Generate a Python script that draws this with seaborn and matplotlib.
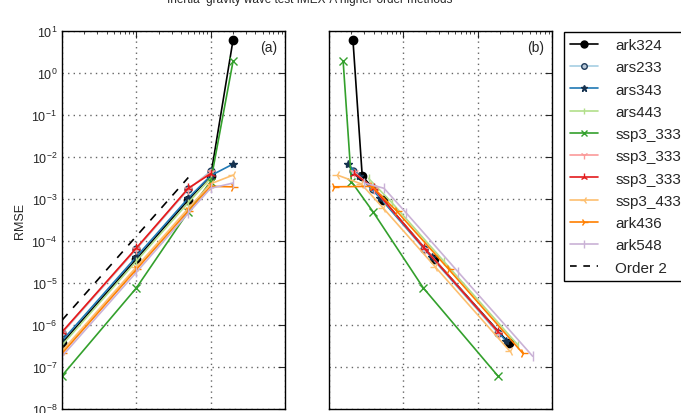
# -*- coding: utf-8 -*-
import numpy as np
import pandas as pd
import seaborn as sns
from matplotlib import pyplot as plt
from matplotlib.lines import Line2D

nan = np.nan

# time steps used in panel (a)
dt = [1, 10, 50, 100, 200]

methods = ['ark324', 'ars233', 'ars343', 'ars443', 'ssp3_333a',
           'ssp3_333b', 'ssp3_333c', 'ssp3_433', 'ark436', 'ark548']

# RMSE per method (one value per dt)
ark324_err = [3.7e-7, 3.7e-5, 9.5e-4, 3.5e-3, 6.1]
ars233_err = [6.4e-7, 6.4e-5, 1.7e-3, 4.6e-3, nan]
ars343_err = [4.2e-7, 4.2e-5, 1.05e-3, 3.6e-3, 6.8e-3]
ars443_err = [3.3e-7, 3.3e-5, 8.2e-4, 3.1e-3, nan]
ssp3_333a_err = [6.2e-8, 7.6e-6, 5.0e-4, 2.6e-3, 1.9]
ssp3_333b_err = [6.6e-7, 6.6e-5, 1.75e-3, 4.3e-3, nan]
ssp3_333c_err = [6.8e-7, 6.8e-5, 1.8e-3, 4.0e-3, nan]
ssp3_433_err = [2.4e-7, 2.4e-5, 6.0e-4, 2.3e-3, 3.7e-3]
ark436_err = [2.1e-7, 2.1e-5, 5.2e-4, 2.0e-3, 1.95e-3]
ark548_err = [1.8e-7, 1.8e-5, 4.6e-4, 1.8e-3, 2.4e-3]

# cost per method (panel b)
ark324_cost = [263, 26, 5.4, 2.8, 2.1]
ars233_cost = [188, 19, 3.9, 2.1, nan]
ars343_cost = [240, 24, 4.9, 2.5, 1.8]
ars443_cost = [350, 35, 7.0, 3.4, nan]
ssp3_333a_cost = [186, 18.6, 3.9, 2.0, 1.55]
ssp3_333b_cost = [192, 19.5, 4.0, 2.2, nan]
ssp3_333c_cost = [190, 19, 4.0, 2.2, nan]
ssp3_433_cost = [270, 27, 5.4, 2.7, 1.3]
ark436_cost = [407, 41, 8.1, 3.8, 1.15]
ark548_cost = [550, 55, 11, 5.5, 3.0]

# order 2 reference line
order2_dt = [1, 50]
order2_err = [1.3e-6, 3.25e-3]

errs = [ark324_err, ars233_err, ars343_err, ars443_err, ssp3_333a_err,
        ssp3_333b_err, ssp3_333c_err, ssp3_433_err, ark436_err, ark548_err]
costs = [ark324_cost, ars233_cost, ars343_cost, ars443_cost, ssp3_333a_cost,
         ssp3_333b_cost, ssp3_333c_cost, ssp3_433_cost, ark436_cost, ark548_cost]

sns.set_style('white')
plt.rcParams['font.family'] = ['Liberation Sans', 'DejaVu Sans']
plt.rcParams['axes.unicode_minus'] = True

pal = sns.color_palette('Paired', 10)
colors = ['black'] + pal[:9]
markers = ['o', 'o', '*', '|', 'x', '1', '2', '3', '4', '|']
mfaces = ['black', '#b8c8d8', '#16324f', None, None, None, None, None, None, None]
medges = ['black', '#1f3b5a', '#16324f', None, None, None, None, None, None, None]
msizes = [6, 5, 6, 6, 6, 7, 7, 7, 7, 7]

fig = plt.figure(figsize=(6.81, 4.14), dpi=100)
H = 414.0
W = 681.0
axa = fig.add_axes([62 / W, 4 / H, 223 / W, 378 / H])
axb = fig.add_axes([329 / W, 4 / H, 223 / W, 378 / H])

handles = []
for i, m in enumerate(methods):
    df = pd.DataFrame({'dt': dt, 'err': errs[i], 'cost': costs[i]}).dropna()
    kw = dict(color=colors[i], marker=markers[i], markersize=msizes[i], linewidth=1.2,
              markeredgewidth=1.0, legend=False)
    if mfaces[i] is not None:
        kw['markerfacecolor'] = mfaces[i]
        kw['markeredgecolor'] = medges[i]
    else:
        kw['markeredgecolor'] = colors[i]
    sns.lineplot(data=df, x='dt', y='err', ax=axa, **kw)
    sns.lineplot(data=df, x='cost', y='err', ax=axb, **kw)
    h = Line2D([], [], color=colors[i], marker=markers[i], markersize=msizes[i] - 1,
               linewidth=1.2, markeredgewidth=1.0,
               markerfacecolor=mfaces[i] if mfaces[i] else colors[i],
               markeredgecolor=medges[i] if medges[i] else colors[i])
    handles.append(h)

axa.plot(order2_dt, order2_err, color='black', ls=(0, (5, 5)), lw=1.2)
handles.append(Line2D([], [], color='black', ls=(0, (4, 4)), lw=1.2))

for ax in (axa, axb):
    ax.set_xscale('log')
    ax.set_yscale('log')
    ax.set_xlim(1, 1000)
    ax.set_ylim(1e-8, 1e1)
    ax.grid(True, which='major', ls=(0, (1, 3)), color='#666666', lw=1.0)
    ax.tick_params(which='both', direction='in', top=True, right=True, labelsize=9,
                   labelbottom=False)
    ax.tick_params(which='major', length=5)
    ax.tick_params(which='minor', length=2.5)
    for s in ax.spines.values():
        s.set_color('black')
        s.set_linewidth(1.0)
    ax.set_xlabel('')
    ax.set_ylabel('')
    ax.set_yticks([10.0 ** k for k in range(-8, 2)])

axa.set_ylabel('RMSE', fontsize=9)
axb.tick_params(labelleft=False)

axa.text(0.965, 0.975, '(a)', transform=axa.transAxes, ha='right', va='top', fontsize=10)
axb.text(0.965, 0.975, '(b)', transform=axb.transAxes, ha='right', va='top', fontsize=10)

fig.text(310 / W, 1.0, 'Inertia\u2013gravity wave test IMEX-A higher-order methods',
         ha='center', va='center', fontsize=8.5)

leg = fig.legend(handles, methods + ['Order 2'], loc='upper left',
                 bbox_to_anchor=(564 / W, 1 - 33 / H), fontsize=11,
                 frameon=True, fancybox=False, framealpha=1, edgecolor='black',
                 handlelength=1.85, handletextpad=1.1, labelspacing=0.54,
                 borderpad=0.4, borderaxespad=0)
leg.get_frame().set_linewidth(1.0)

fig.savefig('out.png', dpi=100)
